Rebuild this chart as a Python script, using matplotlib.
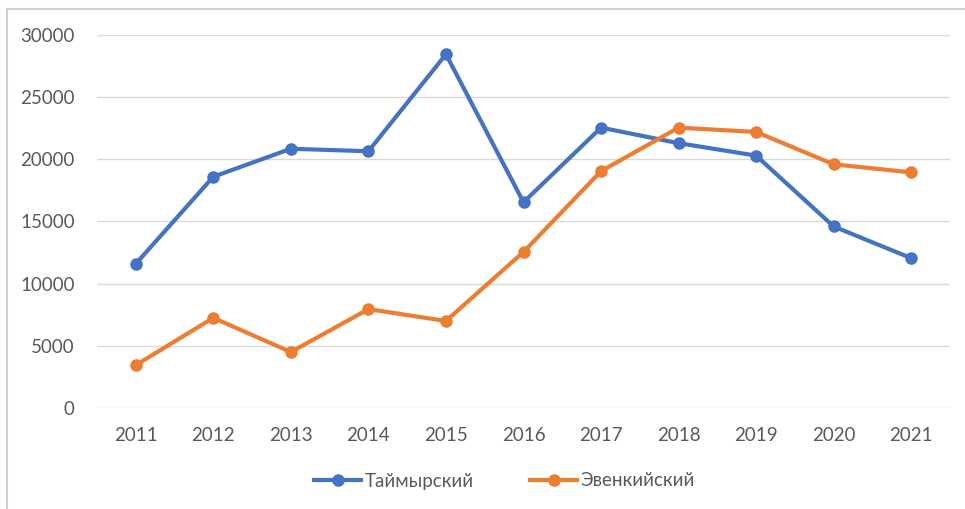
import matplotlib.pyplot as plt
from matplotlib.patches import Rectangle

years = ["2011", "2012", "2013", "2014", "2015", "2016", "2017", "2018", "2019", "2020", "2021"]
taimyr = [11600, 18600, 20850, 20650, 28450, 16550, 22550, 21300, 20300, 14600, 12050]
evenki = [3450, 7250, 4500, 7950, 7000, 12550, 19050, 22550, 22200, 19600, 18950]

plt.rcParams["font.family"] = ["Lato", "DejaVu Sans"]

fig = plt.figure(figsize=(9.65, 5.09), dpi=100)
ax = fig.add_axes([97 / 965, 1 - 408 / 509, 853 / 965, 373 / 509])

# outer chart border (left and top edges visible)
fig.patches.append(Rectangle((7 / 965, -0.1), 2, 1 - 9 / 509 + 0.1, transform=fig.transFigure,
                             fill=False, edgecolor="#d0d0d0", linewidth=1.5))

x = range(len(years))
ax.plot(x, taimyr, color="#4472C4", linewidth=3, marker="o", markersize=8, label="Таймырский")
ax.plot(x, evenki, color="#ED7D31", linewidth=3, marker="o", markersize=8, label="Эвенкийский")

ax.set_xlim(-0.5, len(years) - 0.5)
ax.set_ylim(0, 30000)
ax.set_yticks(range(0, 30001, 5000))
ax.set_xticks(list(x))
ax.set_xticklabels(years)
ax.grid(axis="y", color="#d9d9d9", linewidth=1)
ax.set_axisbelow(True)
for s in ax.spines.values():
    s.set_visible(False)
ax.tick_params(length=0, labelsize=13.5, labelcolor="#595959")
ax.tick_params(axis="x", pad=14)
ax.tick_params(axis="y", pad=16)

fig.legend(loc="center", bbox_to_anchor=(0.523, 1 - 481 / 509), ncol=2, frameon=False,
           fontsize=13.5, labelcolor="#595959", handlelength=2.5, columnspacing=3, handletextpad=0.2)

fig.savefig("out.png", dpi=100)
